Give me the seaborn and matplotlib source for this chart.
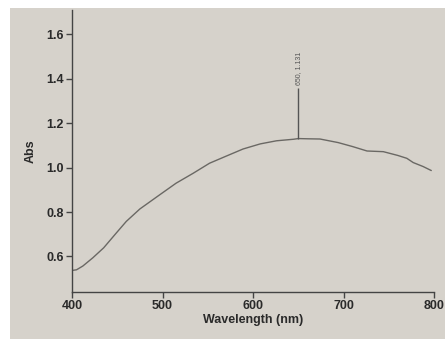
import matplotlib
matplotlib.use("Agg")
import matplotlib.pyplot as plt
import seaborn as sns
import pandas as pd
from matplotlib.patches import Rectangle

# Data
wavelength = [400, 405, 412, 423, 435, 449, 460, 475, 497, 515, 534, 552, 571,
              589, 608, 626, 645, 650, 660, 674, 689, 694, 710, 726, 744, 760,
              770, 777, 788, 797]
absorbance = [0.537, 0.540, 0.557, 0.594, 0.639, 0.706, 0.758, 0.814, 0.878,
              0.930, 0.975, 1.020, 1.053, 1.084, 1.107, 1.121, 1.128, 1.131,
              1.130, 1.129, 1.117, 1.113, 1.095, 1.075, 1.072, 1.055, 1.042,
              1.023, 1.005, 0.987]
peak_wl = [650]
peak_abs = [1.131]
peak_label = "650, 1.131"
x_ticks = [400, 500, 600, 700, 800]
y_ticks = [0.6, 0.8, 1.0, 1.2, 1.4, 1.6]

df = pd.DataFrame({"Wavelength (nm)": wavelength, "Abs": absorbance})

sns.set_theme(style="ticks")
plt.rcParams["font.family"] = ["Liberation Sans", "DejaVu Sans"]

paper = "#d6d2cb"
ink = "#2a2a2a"

fig = plt.figure(figsize=(4.45, 3.39), dpi=100, facecolor="white")
fig.patches.append(Rectangle((10 / 445, 0), 1, 1 - 8 / 339, transform=fig.transFigure,
                             facecolor=paper, edgecolor="none", zorder=-10))
ax = fig.add_axes([72 / 445, 1 - 292 / 339, (434 - 72) / 445, (292 - 10) / 339])
ax.set_facecolor("none")

sns.lineplot(data=df, x="Wavelength (nm)", y="Abs", ax=ax, color="#6a6864",
             linewidth=1.0, sort=True)

ax.vlines(peak_wl, peak_abs, [1.36], color="#555555", linewidth=1.0)
ax.text(peak_wl[0], 1.37, peak_label, rotation=90, ha="center", va="bottom",
        fontsize=5, color="#555555")

ax.set_xlim(400, 800)
ax.set_ylim(0.44, 1.71)
ax.set_xticks(x_ticks)
ax.set_yticks(y_ticks)
ax.set_yticklabels([f"{v:.1f}" for v in y_ticks])
sns.despine(ax=ax)
for s in ["left", "bottom"]:
    ax.spines[s].set_color("#444444")
    ax.spines[s].set_linewidth(1.0)
ax.tick_params(axis="both", direction="out", length=4, width=1.0, color="#444444",
               labelsize=9, labelcolor=ink, pad=2)
for lab in ax.get_xticklabels() + ax.get_yticklabels():
    lab.set_fontweight("bold")
ax.set_xlabel("Wavelength (nm)", fontsize=9, fontweight="bold", color=ink, labelpad=1)
ax.set_ylabel("Abs", fontsize=9, fontweight="bold", color=ink, labelpad=7)

fig.savefig("out.png", dpi=100, facecolor=fig.get_facecolor())
